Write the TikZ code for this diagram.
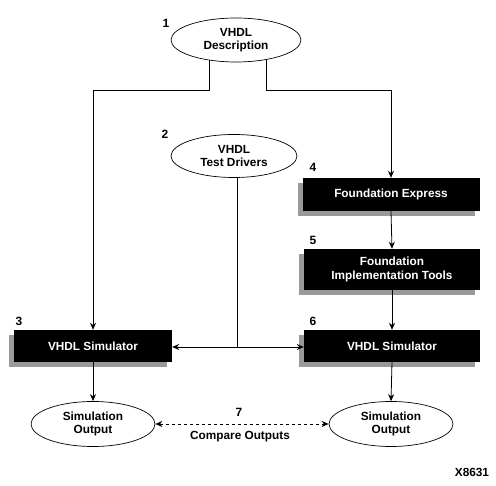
\documentclass[tikz,border=0pt]{standalone}
\usepackage{fontspec}
\setmainfont{Liberation Sans}
\usetikzlibrary{arrows.meta,shapes.geometric,shadows}
\begin{document}
\begin{tikzpicture}[x=1pt,y=-1pt,
  font=\fontsize{11.8}{13.5}\selectfont\bfseries,
  conn/.style={line width=0.8pt},
  arr/.style={line width=0.8pt,-{Stealth[length=7pt,width=6pt]}},
  oval/.style={ellipse,draw,line width=0.7pt,inner sep=0pt,align=center},
  blackbox/.style={rectangle,fill=black,text=white,align=center,inner sep=0pt,
    general shadow={fill=black!40,shadow xshift=-5pt,shadow yshift=-5pt}},
  num/.style={font=\fontsize{12}{14}\selectfont\bfseries}]
\useasboundingbox (0,0) rectangle (496,486);
% ovals
\node[oval,minimum width=130pt,minimum height=44pt] (e1) at (236,40) {VHDL\\Description};
\node[oval,minimum width=126pt,minimum height=43pt] (e2) at (234,156) {VHDL\\Test Drivers};
\node[oval,minimum width=124pt,minimum height=45pt] (s1) at (93,424) {Simulation\\Output};
\node[oval,minimum width=124pt,minimum height=45pt] (s2) at (391,424) {Simulation\\Output};
% boxes
\node[blackbox,minimum width=177pt,minimum height=33pt] (b4) at (391,194.5) {Foundation Express};
\node[blackbox,minimum width=176pt,minimum height=41pt] (b5) at (392,269.5) {Foundation\\Implementation Tools};
\node[blackbox,minimum width=158pt,minimum height=32pt] (b3) at (93,346) {VHDL Simulator};
\node[blackbox,minimum width=176pt,minimum height=32pt] (b6) at (392,346) {VHDL Simulator};
% numbers
\node[num] (n1) at (166,23) {1};
\node[num] (n2) at (165,134) {2};
\node[num] (n3) at (19,321) {3};
\node[num] (n4) at (313,167) {4};
\node[num] (n5) at (313,240) {5};
\node[num] (n6) at (313,321) {6};
\node[num] (n7) at (239,412) {7};
\node (cmp) at (240,437) {Compare Outputs};
\node (x) at (472,472) {X8631};
% junction coordinates
\coordinate (j1) at (209,90);
\coordinate (j2) at (266,90);
\coordinate (j3) at (237,347);
% connectors
\draw[arr] (j1 |- e1.south) ++(0,-2) -- (j1) -- (j1 -| b3) -- (b3.north);
\draw[arr] (j2 |- e1.south) ++(0,-3) -- (j2) -- (j2 -| b4) -- (b4.north);
\draw[arr] (b4.south) -- (b5.north);
\draw[arr] (b5.south) -- (b6.north);
\draw[conn] (e2.south -| j3) -- (j3);
\draw[arr] (j3) -- (j3 -| b3.east);
\draw[arr] (j3) -- (j3 -| b6.west);
\draw[arr] (b3.south) -- (s1.north);
\draw[arr] (b6.south) -- (s2.north);
\draw[line width=0.7pt,dashed,{Stealth[length=7pt,width=6pt]}-{Stealth[length=7pt,width=6pt]}] (s1.east) -- (s2.west);
\end{tikzpicture}
\end{document}
